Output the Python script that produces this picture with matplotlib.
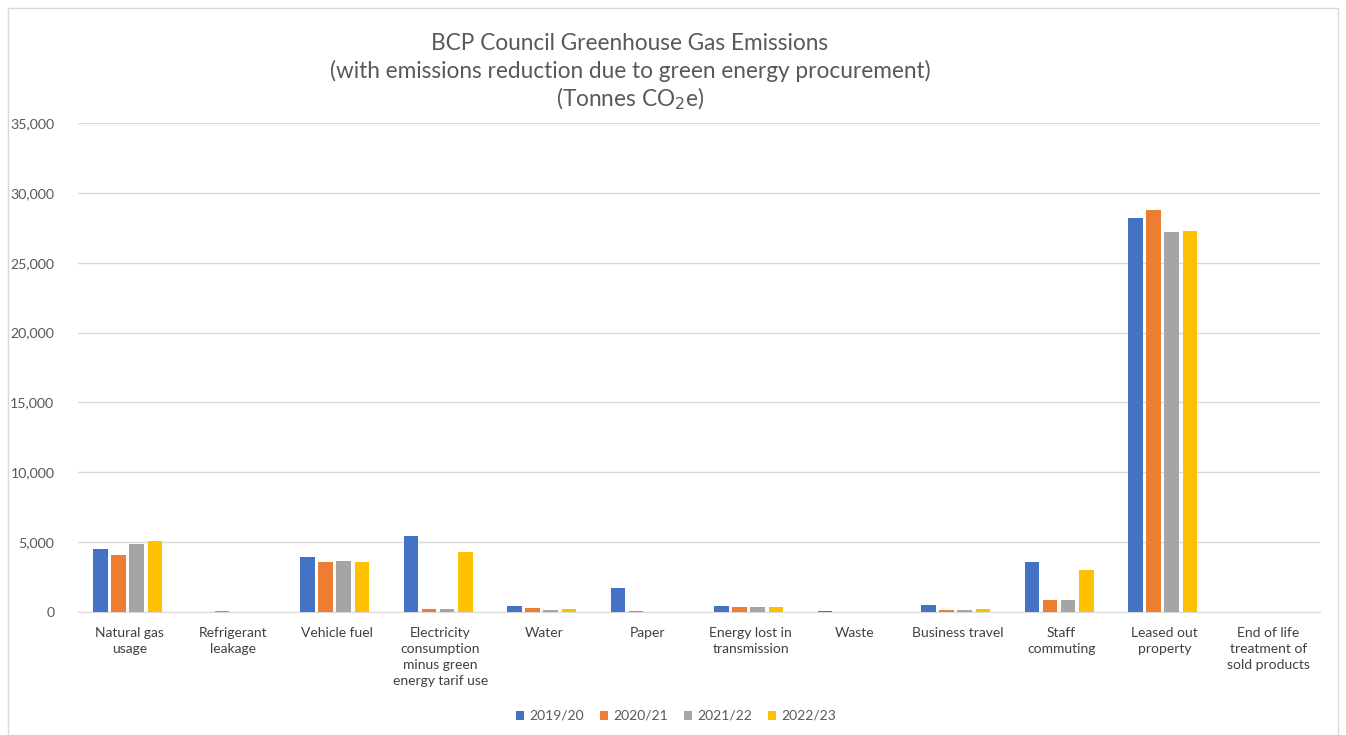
import matplotlib
matplotlib.use("Agg")
import matplotlib.pyplot as plt
import numpy as np
from matplotlib.patches import Rectangle

categories = ["Natural gas\nusage", "Refrigerant\nleakage", "Vehicle fuel",
              "Electricity\nconsumption\nminus green\nenergy tarif use", "Water", "Paper",
              "Energy lost in\ntransmission", "Waste", "Business travel", "Staff\ncommuting",
              "Leased out\nproperty", "End of life\ntreatment of\nsold products"]
series_names = ["2019/20", "2020/21", "2021/22", "2022/23"]
v2019 = [4500, 0, 3940, 5470, 410, 1700, 410, 100, 530, 3610, 28200, 0]
v2020 = [4060, 100, 3610, 240, 310, 100, 360, 0, 150, 860, 28780, 0]
v2021 = [4850, 0, 3650, 190, 120, 0, 360, 0, 150, 860, 27200, 0]
v2022 = [5110, 0, 3610, 4270, 190, 0, 360, 0, 190, 2990, 27280, 0]
colors = ["#4472C4", "#ED7D31", "#A5A5A5", "#FFC000"]
yticks = [0, 5000, 10000, 15000, 20000, 25000, 30000, 35000]

plt.rcParams['font.family'] = ['Lato', 'DejaVu Sans']
fig = plt.figure(figsize=(13.46, 7.35), dpi=100)
ax = fig.add_axes([78/1346, 123/735, (1320-78)/1346, (612-123)/735])

x = np.arange(len(categories))
slot = 0.175
width = 0.14
for i, (vals, name, c) in enumerate(zip([v2019, v2020, v2021, v2022], series_names, colors)):
    ax.bar(x + (i - 1.5) * slot - 0.02, vals, width, color=c, label=name, zorder=3)

ax.set_xlim(-0.5, len(categories) - 0.5)
ax.set_ylim(0, 35000)
ax.set_yticks(yticks)
ax.set_yticklabels([f"{t:,}" for t in yticks], color="#595959", fontsize=10.2)
ax.set_xticks(x)
ax.set_xticklabels(categories, color="#404040", fontsize=10, linespacing=1.4, va="top")
ax.tick_params(axis="both", length=0)
ax.tick_params(axis="x", pad=11)
ax.tick_params(axis="y", pad=17)
ax.grid(axis="y", color="#d9d9d9", linewidth=1, zorder=0)
for s in ["top", "right", "left"]:
    ax.spines[s].set_visible(False)
ax.spines["bottom"].set_color("#d9d9d9")

tkw = dict(ha="center", va="center", fontsize=16.3, color="#595959")
fig.text(0.468, 1 - 43/735, "BCP Council Greenhouse Gas Emissions", **tkw)
fig.text(0.468, 1 - 71/735, "(with emissions reduction due to green energy procurement)", **tkw)
fig.text(0.468, 1 - 99/735, "(Tonnes CO$_2$e)", **tkw)

leg = fig.legend(loc="center", bbox_to_anchor=(676/1346, 1 - 716/735), ncol=4, frameon=False,
                 fontsize=10, handlelength=0.6, handleheight=0.6, handletextpad=0.4, columnspacing=1.1)
for t in leg.get_texts():
    t.set_color("#595959")

fig.patches.append(Rectangle((8/1346, 0), (1338-8)/1346, 1 - 8/735, transform=fig.transFigure,
                             fill=False, edgecolor="#d9d9d9", linewidth=1))

fig.savefig("out.png", dpi=100)
